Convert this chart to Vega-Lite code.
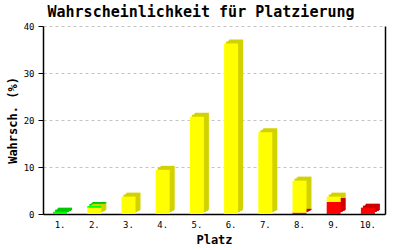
{
  "$schema": "https://vega.github.io/schema/vega-lite/v6.json",
  "width": 342,
  "height": 188,
  "autosize": {"type": "none"},
  "padding": {"left": 43, "top": 26, "right": 15, "bottom": 36},
  "background": "white",
  "title": {
    "text": "Wahrscheinlichkeit für Platzierung",
    "font": "DejaVu Sans Mono",
    "fontSize": 15,
    "fontWeight": "bold",
    "color": "black",
    "anchor": "middle",
    "frame": "group",
    "dx": -13,
    "offset": 2
  },
  "config": {
    "view": {"stroke": null},
    "axis": {
      "labelFont": "DejaVu Sans Mono",
      "labelFontSize": 9,
      "labelColor": "black",
      "titleFont": "DejaVu Sans Mono",
      "titleFontSize": 12,
      "titleFontWeight": "bold",
      "titleColor": "black",
      "domainColor": "black",
      "tickColor": "black"
    }
  },
  "data": {
    "values": [
      {"platz": "1.", "seg": "grün", "ord": 3, "wert": 0.5},
      {"platz": "2.", "seg": "gelb", "ord": 2, "wert": 1.35},
      {"platz": "2.", "seg": "grün", "ord": 3, "wert": 0.35},
      {"platz": "3.", "seg": "gelb", "ord": 2, "wert": 3.7},
      {"platz": "4.", "seg": "gelb", "ord": 2, "wert": 9.4},
      {"platz": "5.", "seg": "gelb", "ord": 2, "wert": 20.7},
      {"platz": "6.", "seg": "gelb", "ord": 2, "wert": 36.3},
      {"platz": "7.", "seg": "gelb", "ord": 2, "wert": 17.4},
      {"platz": "8.", "seg": "rot", "ord": 1, "wert": 0.3},
      {"platz": "8.", "seg": "gelb", "ord": 2, "wert": 6.8},
      {"platz": "9.", "seg": "rot", "ord": 1, "wert": 2.55},
      {"platz": "9.", "seg": "gelb", "ord": 2, "wert": 1.15},
      {"platz": "10.", "seg": "rot", "ord": 1, "wert": 1.35}
    ]
  },
  "encoding": {
    "x": {
      "field": "platz",
      "type": "ordinal",
      "sort": null,
      "title": "Platz",
      "scale": {"paddingInner": 0, "paddingOuter": 0},
      "axis": {"labelAngle": 0, "ticks": false, "labelPadding": 6, "titlePadding": 5, "domainWidth": 1.5}
    },
    "y": {
      "field": "wert",
      "type": "quantitative",
      "stack": "zero",
      "scale": {"domain": [0, 40]},
      "title": "Wahrsch. (%)"
    },
    "order": {"field": "ord", "type": "quantitative"}
  },
  "resolve": {"scale": {"color": "independent"}, "axis": {"y": "independent"}},
  "layer": [
    {
      "mark": {"type": "bar", "width": 14, "xOffset": 2, "yOffset": -2},
      "encoding": {
        "color": {"field": "seg", "type": "nominal", "legend": null,
          "scale": {"domain": ["grün", "gelb", "rot"], "range": ["#00c800", "#d2d200", "#cc0000"]}},
        "y": {"field": "wert", "type": "quantitative", "stack": "zero", "scale": {"domain": [0, 40]}, "title": "Wahrsch. (%)",
          "axis": {"values": [0, 10, 20, 30, 40], "tickSize": 5, "labelPadding": 4, "titlePadding": 4, "gridDash": [3, 3], "gridColor": "#c4c4c4", "grid": true, "domainWidth": 1.5}}
      }
    },
    {
      "mark": {"type": "bar", "width": 14, "xOffset": 4, "yOffset": -3},
      "encoding": {
        "color": {"field": "seg", "type": "nominal", "legend": null,
          "scale": {"domain": ["grün", "gelb", "rot"], "range": ["#00c800", "#d2d200", "#cc0000"]}},
        "y": {"field": "wert", "type": "quantitative", "stack": "zero", "scale": {"domain": [0, 40]},
          "axis": {"orient": "right", "labels": false, "ticks": false, "grid": false, "title": null, "domainWidth": 1.5}}
      }
    },
    {
      "mark": {"type": "bar", "width": 14, "xOffset": 5, "yOffset": -4},
      "encoding": {
        "color": {"field": "seg", "type": "nominal", "legend": null,
          "scale": {"domain": ["grün", "gelb", "rot"], "range": ["#00c800", "#d2d200", "#cc0000"]}},
        "y": {"field": "wert", "type": "quantitative", "stack": "zero", "scale": {"domain": [0, 40]}, "axis": null}
      }
    },
    {
      "mark": {"type": "bar", "width": 14},
      "encoding": {
        "color": {"field": "seg", "type": "nominal", "legend": null,
          "scale": {"domain": ["grün", "gelb", "rot"], "range": ["#00ff00", "#ffff00", "#ff0000"]}},
        "y": {"field": "wert", "type": "quantitative", "stack": "zero", "scale": {"domain": [0, 40]}, "axis": null}
      }
    }
  ]
}
